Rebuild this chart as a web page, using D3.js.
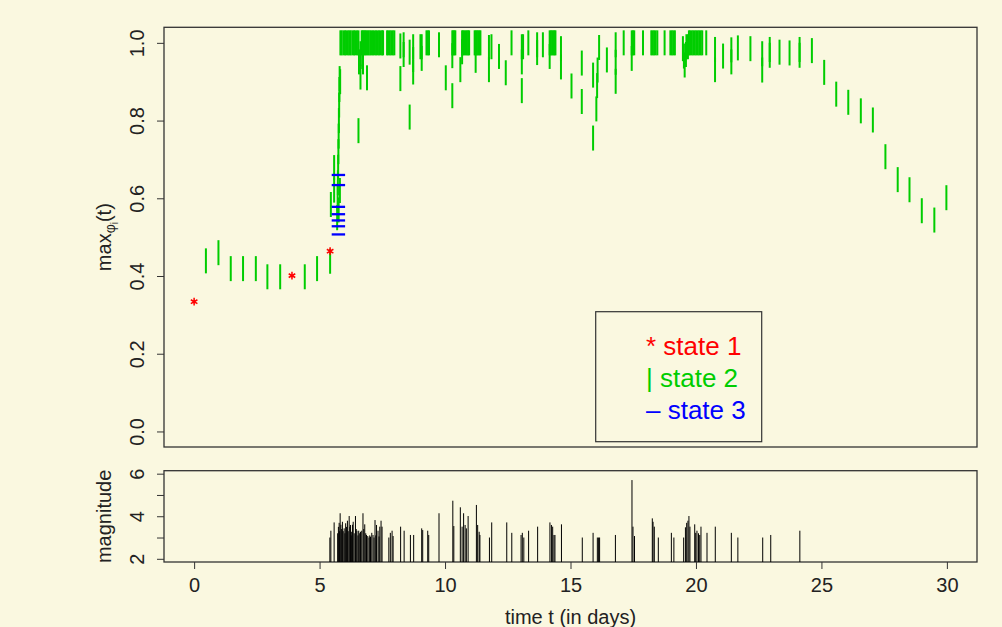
<!DOCTYPE html>
<html>
<head>
<meta charset="utf-8">
<script src="https://cdn.jsdelivr.net/npm/d3@7"></script>
<style>
body { margin:0; background:#FAF8E0; }
svg text { font-family: "Liberation Sans", Arial, Helvetica, sans-serif; fill:#222; }
</style>
</head>
<body>
<div id="chart"></div>
<script>
// state 1 points [time, max phi]
var state1 = [[0, 0.334], [3.9, 0.401], [5.42, 0.464]];

// state 3 points
var state3 = [[5.75, 0.66], [5.75, 0.634], [5.75, 0.578], [5.75, 0.559], [5.75, 0.543], [5.75, 0.528], [5.75, 0.507]];

// state 2 points
var state2 = [
    [0.47,0.439],[0.97,0.46],[1.46,0.419],[1.95,0.419],[2.46,0.419],[2.92,0.398],[3.43,0.398],[4.41,0.398],[4.90,0.419],[5.42,0.438],
    [5.45,0.584],[5.58,0.679],[5.58,0.621],
    [5.70,0.55],[5.72,0.60],[5.73,0.64],[5.74,0.68],[5.75,0.72],[5.76,0.76],[5.77,0.80],[5.78,0.84],[5.79,0.88],[5.80,0.908],[5.81,0.62],[5.82,0.90],[5.76,0.57],
    [5.83,1.0],[5.88,1.0],[5.95,1.0],[6.01,1.0],[6.06,1.0],[6.13,1.0],[6.19,1.0],[6.24,1.0],[6.31,1.0],[6.37,1.0],[6.42,1.0],[6.49,1.0],[6.55,1.0],
    [6.55,0.774],[6.57,0.951],[6.63,0.972],[6.63,0.912],
    [6.68,1.0],[6.70,0.965],[6.72,1.0],[6.73,0.951],[6.76,1.0],[6.81,1.0],[6.86,1.0],[6.89,0.91],[6.91,1.0],[6.96,1.0],[7.02,1.0],[7.07,1.0],
    [7.13,1.0],[7.19,1.0],[7.25,1.0],[7.31,1.0],[7.37,1.0],[7.43,1.0],[7.49,1.0],[7.53,1.0],
    [7.69,1.0],[7.74,1.0],[7.80,1.0],[7.86,1.0],[7.92,1.0],[7.98,1.0],
    [8.22,0.992],[8.22,0.908],[8.35,0.995],[8.35,0.97],[8.59,0.976],[8.59,0.809],[8.73,0.99],[8.73,0.957],[8.73,0.925],
    [9.02,0.99],[9.07,0.96],[9.07,0.99],[9.26,1.0],[9.31,1.0],[9.36,1.0],[9.76,0.995],[10.03,0.91],
    [10.29,1.0],[10.29,0.967],[10.29,0.864],[10.33,1.0],[10.37,1.0],[10.41,1.0],[10.61,0.931],
    [10.68,1.0],[10.68,0.977],[10.72,1.0],[10.77,1.0],[10.82,1.0],[10.87,1.0],[10.92,1.0],[10.96,1.0],
    [11.18,1.0],[11.22,1.0],[11.22,0.955],[11.27,1.0],[11.32,1.0],[11.37,1.0],[11.41,1.0],
    [11.75,0.988],[11.75,0.931],[11.85,0.99],[12.15,0.965],[12.42,0.923],[12.65,1.0],
    [13.06,0.99],[13.06,0.951],[13.06,0.877],[13.11,0.99],[13.32,1.0],[13.67,0.995],[13.67,0.975],[13.90,0.995],
    [14.17,1.0],[14.17,0.965],[14.22,1.0],[14.27,1.0],[14.32,1.0],[14.36,1.0],[14.40,1.0],
    [14.62,0.985],[14.62,0.938],[15.04,0.889],[15.45,0.948],[15.45,0.849],[15.90,0.917],[15.90,0.755],
    [16.03,0.83],[16.06,0.89],[16.08,0.93],[16.14,0.988],[16.45,0.956],
    [16.80,0.995],[16.80,0.95],[16.80,0.901],[17.12,1.0],
    [17.44,1.0],[17.44,0.96],[17.49,1.0],[17.54,1.0],[17.89,1.0],
    [18.22,1.0],[18.27,1.0],[18.33,1.0],[18.39,1.0],[18.46,1.0],[18.75,1.0],
    [18.98,1.0],[19.04,1.0],[19.10,1.0],[19.16,1.0],
    [19.48,0.985],[19.52,0.966],[19.55,0.943],[19.60,0.97],[19.62,0.99],
    [19.68,0.99],[19.72,1.0],[19.77,1.0],[19.83,1.0],[19.89,1.0],[19.95,1.0],[20.01,1.0],[20.07,1.0],[20.13,1.0],[20.19,1.0],[20.25,1.0],
    [20.41,1.0],[20.76,0.983],[20.76,0.931],[21.08,0.966],[21.41,0.982],[21.41,0.951],[21.67,0.987],[22.17,0.985],
    [22.64,0.972],[22.64,0.93],[22.94,0.983],[22.94,0.968],[23.33,0.976],[23.73,0.974],[24.13,0.983],[24.13,0.968],[24.62,0.98],
    [25.11,0.924],[25.59,0.868],[26.07,0.847],[26.57,0.825],[27.05,0.8015],[27.55,0.707],[28.04,0.648],[28.51,0.622],
    [29.00,0.568],[29.50,0.544],[29.98,0.6015]
];

// earthquakes [time, magnitude]
var quakes = [
    [5.41,3.0],[5.45,3.32],[5.58,3.71],[5.72,3.2],[5.75,3.5],[5.78,3.69],[5.80,3.3],[5.82,4.14],[5.85,3.6],[5.88,3.4],
    [5.91,3.74],[5.94,3.3],[5.98,3.43],[6.01,3.2],[6.04,3.67],[6.07,3.5],[6.11,3.79],[6.14,3.3],[6.18,4.01],[6.21,3.5],
    [6.23,3.59],[6.26,3.1],[6.28,3.27],[6.31,3.6],[6.34,3.74],[6.38,3.2],[6.43,4.01],[6.46,3.4],[6.49,3.32],[6.53,3.1],
    [6.56,3.32],[6.60,3.2],[6.63,3.27],[6.68,3.32],[6.73,4.14],[6.76,3.4],[6.80,3.62],[6.84,3.2],[6.87,3.12],[6.92,3.07],
    [6.97,3.0],[7.00,3.1],[7.03,3.04],[7.08,3.22],[7.13,3.12],[7.17,3.0],[7.21,3.82],[7.24,3.1],[7.27,3.59],[7.33,3.32],
    [7.37,3.05],[7.40,3.51],[7.45,3.79],[7.49,3.51],[7.76,3.0],[7.82,3.22],[7.89,3.32],[7.93,3.07],
    [8.23,3.51],[8.37,3.32],[8.62,3.12],[8.75,3.12],[9.07,3.43],[9.11,3.35],[9.31,3.32],[9.35,3.12],[9.76,4.14],
    [10.31,4.73],[10.35,3.54],[10.61,4.42],[10.68,3.51],[10.74,4.14],[10.80,3.59],[10.85,3.43],[10.92,4.01],
    [11.25,4.53],[11.30,3.59],[11.36,3.27],[11.39,3.12],[11.77,3.0],[11.86,3.71],[12.46,3.71],[12.66,3.22],
    [13.03,3.12],[13.08,3.22],[13.14,3.0],[13.33,3.32],[13.69,3.51],[14.18,3.71],[14.24,3.59],[14.29,3.51],[14.34,3.12],[14.38,3.12],
    [14.64,3.62],[15.47,3.0],[15.90,3.22],[16.07,3.0],[16.12,3.0],[16.16,3.0],[16.79,3.12],
    [17.45,5.70],[17.49,3.51],[17.55,3.07],[18.26,3.90],[18.29,3.74],[18.34,3.51],[18.50,3.0],[19.02,3.22],[19.12,3.0],
    [19.51,3.0],[19.58,3.48],[19.63,3.69],[19.68,3.79],[19.72,4.01],[19.76,3.51],[19.95,3.62],[19.99,3.22],[20.04,3.32],[20.10,3.2],
    [20.15,3.12],[20.20,3.51],[20.44,3.22],[20.77,3.51],[21.41,3.22],[21.67,3.0],[22.66,3.0],[22.98,3.12],[24.14,3.32]
];

// ticks and legend
var xTicks = [0, 5, 10, 15, 20, 25, 30];
var phiTicks = [0, 0.2, 0.4, 0.6, 0.8, 1.0];
var magTicks = [2, 3, 4, 5, 6];
var legendLabels = ['* state 1', '| state 2', '\u2013 state 3'];
var legendColors = ['#FF0000', '#00CD00', '#0000FF'];

// define svg area
var svgWidth = 1002;
var svgHeight = 627;

var plotLeft = 164;
var plotRight = 977;
var topPanel = {top: 27.3, bottom: 447};
var magPanel = {top: 470.7, bottom: 562};

var svg = d3.select('#chart')
    .append('svg')
    .attr('width', svgWidth)
    .attr('height', svgHeight);

svg.append('rect')
    .attr('width', svgWidth)
    .attr('height', svgHeight)
    .attr('fill', '#FAF8E0');

// scales
var xScale = d3.scaleLinear()
    .domain([-1.2, 31.2])
    .range([plotLeft, plotRight]);

var yScale = d3.scaleLinear()
    .domain([-0.04, 1.04])
    .range([topPanel.bottom, topPanel.top]);

var magScale = d3.scaleLinear()
    .domain([1.85, 6.14])
    .range([magPanel.bottom, magPanel.top]);

// y axis of top panel
var phiAxis = svg.append('g')
    .attr('transform', `translate(${plotLeft},0)`)
    .call(d3.axisLeft(yScale).tickValues(phiTicks).tickSize(7).tickSizeOuter(0).tickFormat(d3.format('.1f')))
    .attr('color', '#333')
    .attr('font-size', 20)
    .attr('font-family', null);
phiAxis.select('.domain').remove();
phiAxis.selectAll('text')
    .attr('transform', 'rotate(-90)')
    .attr('x', 0)
    .attr('y', -20.5)
    .attr('dy', 0)
    .attr('text-anchor', 'middle');

// y axis of magnitude panel
var magAxis = svg.append('g')
    .attr('transform', `translate(${plotLeft},0)`)
    .call(d3.axisLeft(magScale).tickValues(magTicks).tickSize(7).tickSizeOuter(0).tickFormat(d => d % 2 === 0 ? d : ''))
    .attr('color', '#333')
    .attr('font-size', 20)
    .attr('font-family', null);
magAxis.select('.domain').remove();
magAxis.selectAll('text')
    .attr('transform', 'rotate(-90)')
    .attr('x', 0)
    .attr('y', -20.5)
    .attr('dy', 0)
    .attr('text-anchor', 'middle');

// x axis (bottom panel only)
var xAxis = svg.append('g')
    .attr('transform', `translate(0,${magPanel.bottom})`)
    .call(d3.axisBottom(xScale).tickValues(xTicks).tickSize(7).tickSizeOuter(0).tickFormat(d3.format('d')))
    .attr('color', '#333')
    .attr('font-size', 20)
    .attr('font-family', null);
xAxis.select('.domain').remove();
xAxis.selectAll('text')
    .attr('y', 30)
    .attr('dy', 0);

// boxes
svg.append('rect')
    .attr('x', plotLeft)
    .attr('y', topPanel.top)
    .attr('width', plotRight - plotLeft)
    .attr('height', topPanel.bottom - topPanel.top)
    .attr('fill', 'none')
    .attr('stroke', '#333')
    .attr('stroke-width', 1.3);

svg.append('rect')
    .attr('x', plotLeft)
    .attr('y', magPanel.top)
    .attr('width', plotRight - plotLeft)
    .attr('height', magPanel.bottom - magPanel.top)
    .attr('fill', 'none')
    .attr('stroke', '#333')
    .attr('stroke-width', 1.3);

// axis titles
var yLabel = svg.append('text')
    .attr('transform', `translate(111,${(topPanel.top + topPanel.bottom) / 2})rotate(-90)`)
    .attr('text-anchor', 'middle')
    .attr('font-size', 20);
yLabel.append('tspan').text('max');
yLabel.append('tspan').attr('font-size', 14).attr('dy', 4).text('\u03c6');
yLabel.append('tspan').attr('font-size', 10).attr('dy', 3).text('i');
yLabel.append('tspan').attr('dy', -7).text('(t)');

svg.append('text')
    .attr('transform', `translate(111,${(magPanel.top + magPanel.bottom) / 2})rotate(-90)`)
    .attr('text-anchor', 'middle')
    .attr('font-size', 20)
    .text('magnitude');

svg.append('text')
    .attr('x', (plotLeft + plotRight) / 2)
    .attr('y', 624)
    .attr('text-anchor', 'middle')
    .attr('font-size', 20)
    .text('time t (in days)');

// state 2 marks
svg.append('g').selectAll('line')
    .data(state2)
    .enter()
    .append('line')
    .attr('x1', d => xScale(d[0]))
    .attr('x2', d => xScale(d[0]))
    .attr('y1', d => yScale(d[1]) - 12.5)
    .attr('y2', d => yScale(d[1]) + 12.5)
    .attr('stroke', '#00CD00')
    .attr('stroke-width', 2);

// state 3 marks
svg.append('g').selectAll('line')
    .data(state3)
    .enter()
    .append('line')
    .attr('x1', d => xScale(d[0]) - 6.7)
    .attr('x2', d => xScale(d[0]) + 6.7)
    .attr('y1', d => yScale(d[1]))
    .attr('y2', d => yScale(d[1]))
    .attr('stroke', '#0000FF')
    .attr('stroke-width', 2.3);

// state 1 stars
var starType = d3.symbolAsterisk || d3.symbolCross;
svg.append('g').selectAll('path')
    .data(state1)
    .enter()
    .append('path')
    .attr('d', d3.symbol().type(starType).size(40))
    .attr('transform', d => `translate(${xScale(d[0])},${yScale(d[1])})`)
    .attr('fill', 'none')
    .attr('stroke', '#FF0000')
    .attr('stroke-width', 1.5);

// legend
svg.append('rect')
    .attr('x', 595.7)
    .attr('y', 311.7)
    .attr('width', 166)
    .attr('height', 130)
    .attr('fill', 'none')
    .attr('stroke', '#333')
    .attr('stroke-width', 1.2);

svg.append('g').selectAll('text')
    .data(legendLabels)
    .enter()
    .append('text')
    .attr('x', 646)
    .attr('y', (d, i) => 355 + i * 32)
    .attr('font-size', 26)
    .style('fill', (d, i) => legendColors[i])
    .text(d => d);

// magnitude spikes
svg.append('g').selectAll('line')
    .data(quakes)
    .enter()
    .append('line')
    .attr('x1', d => xScale(d[0]))
    .attr('x2', d => xScale(d[0]))
    .attr('y1', magPanel.bottom)
    .attr('y2', d => magScale(d[1]))
    .attr('stroke', '#000')
    .attr('stroke-width', 1);
</script>
</body>
</html>
